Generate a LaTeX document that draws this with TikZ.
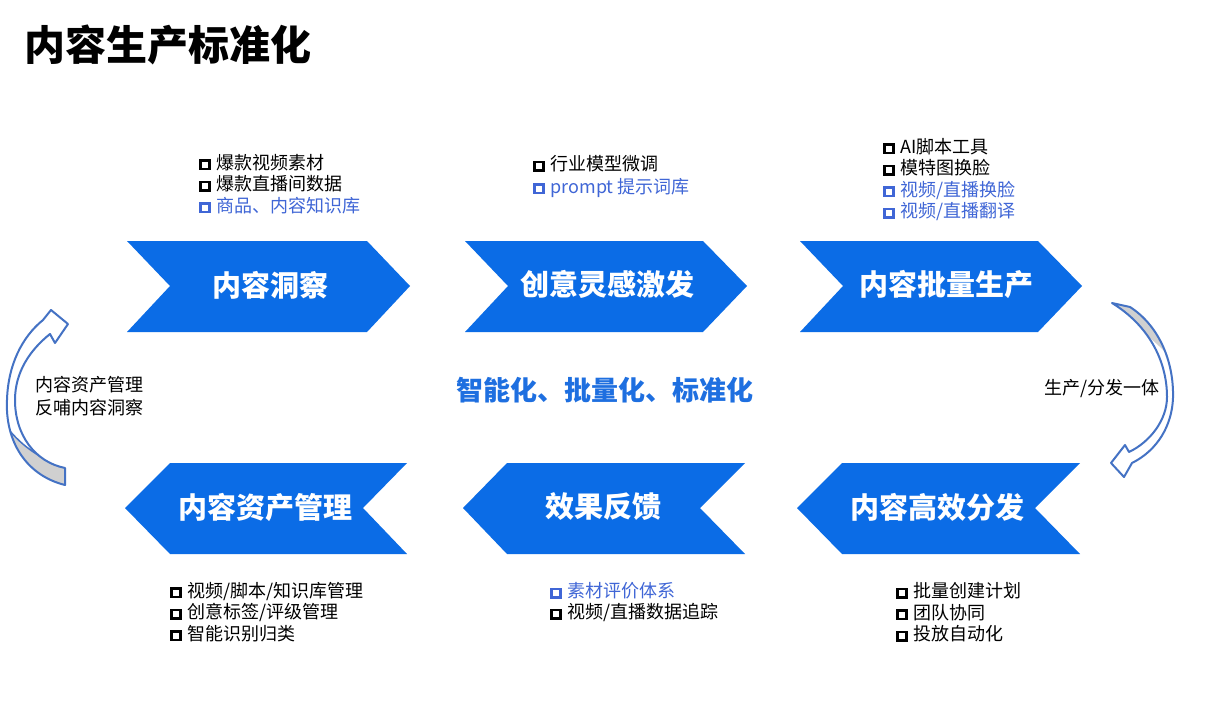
\documentclass[tikz,border=0pt]{standalone}
\usepackage{fontspec}
\setmainfont{Noto Sans CJK SC}
\definecolor{chevblue}{HTML}{0B6CE6}
\definecolor{midblue}{HTML}{1E6FE0}
\definecolor{listblue}{HTML}{4066D6}
\definecolor{arrowblue}{HTML}{4472C4}
\definecolor{arrowgray}{HTML}{D0D0D0}
\newcommand{\cbox}[1]{{\color{#1}\setlength{\fboxsep}{0pt}\setlength{\fboxrule}{2.5pt}\raisebox{1.1pt}{\fbox{\rule{0pt}{6.3pt}\rule{6.3pt}{0pt}}}}}
\tikzset{
  chev/.style={fill=chevblue},
  chevlabel/.style={text=white, inner sep=0pt, font=\fontsize{29}{32}\selectfont\bfseries},
  item/.style={anchor=base west, inner sep=0pt, font=\fontsize{18}{21}\selectfont},
  blueitem/.style={item, text=listblue},
  sidetext/.style={inner sep=0pt, font=\fontsize{18}{22.5}\selectfont, align=left},
  curvebody/.style={draw=arrowblue, line width=2pt, fill=white, line join=round},
}
\newcommand{\bk}[1]{\cbox{black}\hspace{6pt}#1}
\newcommand{\bl}[1]{\cbox{listblue}\hspace{6pt}#1}
\begin{document}
\begin{tikzpicture}[x=1pt,y=-1pt]
\useasboundingbox (0,0) rectangle (1205,717);
\fill[white] (0,0) rectangle (1205,717);

% title
\node[anchor=base west, inner sep=0pt, font=\fontsize{41}{44}\selectfont\bfseries] (title) at (24,60) {内容生产标准化};

% top row chevrons
\fill[chev] (127,241) -- (367,241) -- (410,286) -- (367,332) -- (127,332) -- (170,286) -- cycle;
\node[chevlabel] (c1) at (270,285) {内容洞察};
\fill[chev] (465,241) -- (703,241) -- (747,286) -- (703,332) -- (465,332) -- (508,286) -- cycle;
\node[chevlabel] (c2) at (607,284) {创意灵感激发};
\fill[chev] (800,241) -- (1038,241) -- (1082,286) -- (1038,332) -- (800,332) -- (843,286) -- cycle;
\node[chevlabel] (c3) at (946,284) {内容批量生产};

% bottom row chevrons
\fill[chev] (125,508) -- (170,463) -- (407,463) -- (363,508) -- (407,554) -- (170,554) -- cycle;
\node[chevlabel] (c4) at (265,507) {内容资产管理};
\fill[chev] (463,508) -- (507,463) -- (745,463) -- (700,508) -- (745,554) -- (507,554) -- cycle;
\node[chevlabel] (c5) at (603,507) {效果反馈};
\fill[chev] (797,508) -- (842,463) -- (1080,463) -- (1035,508) -- (1080,554) -- (842,554) -- cycle;
\node[chevlabel] (c6) at (937,507) {内容高效分发};

% lists
\node[item] (l1a) at (199,169) {\bk{爆款视频素材}};
\node[item] (l1b) at (199,190.5) {\bk{爆款直播间数据}};
\node[blueitem] (l1c) at (199,212) {\bl{商品、内容知识库}};

\node[item] (l2a) at (533,170.5) {\bk{行业模型微调}};
\node[blueitem] (l2b) at (533,193) {\bl{prompt 提示词库}};

\node[item] (l3a) at (883,153) {\bk{AI脚本工具}};
\node[item] (l3b) at (883,174.5) {\bk{模特图换脸}};
\node[blueitem] (l3c) at (883,196) {\bl{视频/直播换脸}};
\node[blueitem] (l3d) at (883,217.5) {\bl{视频/直播翻译}};

\node[item] (l4a) at (170,597) {\bk{视频/脚本/知识库管理}};
\node[item] (l4b) at (170,618.5) {\bk{创意标签/评级管理}};
\node[item] (l4c) at (170,640) {\bk{智能识别归类}};

\node[blueitem] (l5a) at (550,597.5) {\bl{素材评价体系}};
\node[item] (l5b) at (550,618.5) {\bk{视频/直播数据追踪}};

\node[item] (l6a) at (896,597.5) {\bk{批量创建计划}};
\node[item] (l6b) at (896,619) {\bk{团队协同}};
\node[item] (l6c) at (896,640.5) {\bk{投放自动化}};

% centre text
\node[inner sep=0pt, text=midblue, font=\fontsize{27}{30}\selectfont\bfseries] (mid) at (604.5,390) {智能化、批量化、标准化};

% side texts
\node[sidetext, anchor=west] (lt) at (35,396) {内容资产管理\\反哺内容洞察};
\node[sidetext, anchor=base west] (rt) at (1044,394) {生产/分发一体};

% left curved arrow
\def\leftbody{(65,485) .. controls (25,475) and (5,440) .. (7,400) .. controls (8,365) and (22,337) .. (43,320) -- (51,310) -- (68,324) -- (55,343) -- (50,334) .. controls (30,350) and (15,372) .. (15,400) .. controls (15,435) and (35,462) .. (65,468) -- cycle}
\fill[white] \leftbody;
\begin{scope}
  \clip \leftbody;
  \fill[arrowgray] (0,418) .. controls (15,440) and (35,458) .. (66,467) -- (90,467) -- (90,500) -- (0,500) -- cycle;
  \draw[arrowblue, line width=1.5pt] (0,418) .. controls (15,440) and (35,458) .. (66,467);
\end{scope}
\draw[curvebody, fill=none] \leftbody;

% right curved arrow
\def\rightbody{(1130,307) .. controls (1158,325) and (1174,360) .. (1173,398) .. controls (1172,425) and (1158,450) .. (1132,463) -- (1124,477) -- (1111,463) -- (1125,445) -- (1129,452) .. controls (1150,442) and (1167,420) .. (1167,397) .. controls (1167,360) and (1148,325) .. (1112,303) -- cycle}
\fill[white] \rightbody;
\begin{scope}
  \clip \rightbody;
  \fill[arrowgray] (1090,290) -- (1190,290) -- (1190,378) .. controls (1175,362) and (1160,345) .. (1140,330) -- (1090,330) -- cycle;
\end{scope}
\draw[curvebody, fill=none] \rightbody;
\end{tikzpicture}
\end{document}
